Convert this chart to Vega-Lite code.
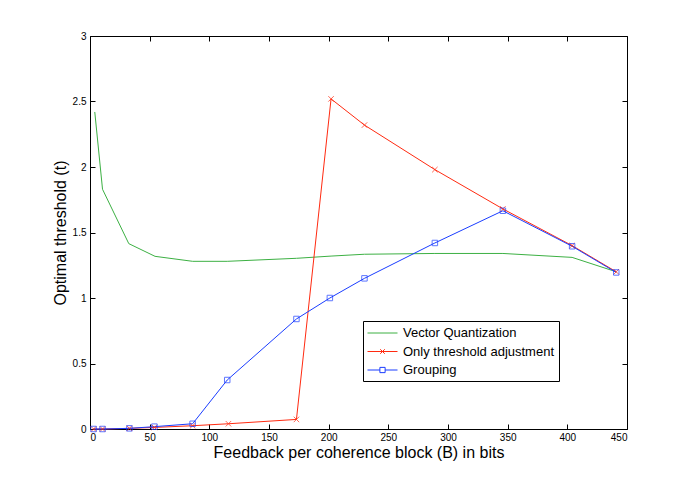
{
  "$schema": "https://vega.github.io/schema/vega-lite/v6.json",
  "width": 537,
  "height": 393,
  "autosize": {"type": "none"},
  "padding": {"left": 90, "top": 36, "right": 65, "bottom": 54},
  "background": "white",
  "config": {
    "font": "Liberation Sans",
    "view": {"stroke": "#000", "strokeWidth": 1},
    "axis": {"grid": false, "domain": false, "tickColor": "#000", "tickSize": -5, "labelColor": "#000", "labelFont": "Liberation Sans", "labelFontSize": 10, "titleFont": "Liberation Sans", "titleFontSize": 16, "titleFontWeight": "normal", "titleColor": "#000"}
  },
  "data": {"values": [
    {"series": "Vector Quantization", "B": 4, "t": 2.42},
    {"series": "Vector Quantization", "B": 10.5, "t": 1.83},
    {"series": "Vector Quantization", "B": 32.5, "t": 1.415},
    {"series": "Vector Quantization", "B": 54.5, "t": 1.318},
    {"series": "Vector Quantization", "B": 86, "t": 1.28},
    {"series": "Vector Quantization", "B": 115, "t": 1.28},
    {"series": "Vector Quantization", "B": 173, "t": 1.303},
    {"series": "Vector Quantization", "B": 202, "t": 1.32},
    {"series": "Vector Quantization", "B": 230, "t": 1.334},
    {"series": "Vector Quantization", "B": 289, "t": 1.34},
    {"series": "Vector Quantization", "B": 346, "t": 1.34},
    {"series": "Vector Quantization", "B": 404, "t": 1.31},
    {"series": "Vector Quantization", "B": 441, "t": 1.2},
    {"series": "Only threshold adjustment", "B": 3, "t": 0},
    {"series": "Only threshold adjustment", "B": 10.5, "t": 0},
    {"series": "Only threshold adjustment", "B": 33, "t": 0.005},
    {"series": "Only threshold adjustment", "B": 54, "t": 0.012},
    {"series": "Only threshold adjustment", "B": 86, "t": 0.025},
    {"series": "Only threshold adjustment", "B": 116, "t": 0.04},
    {"series": "Only threshold adjustment", "B": 173, "t": 0.073},
    {"series": "Only threshold adjustment", "B": 202, "t": 2.52},
    {"series": "Only threshold adjustment", "B": 230, "t": 2.32},
    {"series": "Only threshold adjustment", "B": 289, "t": 1.98},
    {"series": "Only threshold adjustment", "B": 346, "t": 1.68},
    {"series": "Only threshold adjustment", "B": 404, "t": 1.4},
    {"series": "Only threshold adjustment", "B": 441, "t": 1.2},
    {"series": "Grouping", "B": 3, "t": 0},
    {"series": "Grouping", "B": 10.5, "t": 0},
    {"series": "Grouping", "B": 33, "t": 0.005},
    {"series": "Grouping", "B": 54, "t": 0.018},
    {"series": "Grouping", "B": 86, "t": 0.04},
    {"series": "Grouping", "B": 115, "t": 0.374},
    {"series": "Grouping", "B": 173, "t": 0.84},
    {"series": "Grouping", "B": 201, "t": 1.0},
    {"series": "Grouping", "B": 230, "t": 1.15},
    {"series": "Grouping", "B": 289, "t": 1.42},
    {"series": "Grouping", "B": 346, "t": 1.666},
    {"series": "Grouping", "B": 404, "t": 1.395},
    {"series": "Grouping", "B": 441, "t": 1.195}
  ]},
  "layer": [
    {
      "mark": {"type": "point", "filled": false, "opacity": 0, "strokeWidth": 1},
      "encoding": {
        "x": {"field": "B", "type": "quantitative", "scale": {"domain": [0, 450], "nice": false}, "axis": {"values": [0,50,100,150,200,250,300,350,400,450], "labelPadding": 8, "title": "Feedback per coherence block (B) in bits", "titlePadding": 2}},
        "y": {"field": "t", "type": "quantitative", "scale": {"domain": [0, 3], "nice": false}, "axis": {"values": [0,0.5,1,1.5,2,2.5,3], "format": "~g", "labelPadding": 9, "title": "Optimal threshold (t)", "titlePadding": 4}},
        "color": {"field": "series", "type": "nominal", "title": null, "scale": {"domain": ["Vector Quantization", "Only threshold adjustment", "Grouping"], "range": ["#3cb043", "#ff2a10", "#1a3dff"]}, "legend": {"orient": "none", "legendX": 273, "legendY": 285, "title": null, "symbolSize": 225, "symbolOpacity": 1, "symbolStrokeWidth": 1, "symbolFillColor": "transparent", "labelFontSize": 13, "labelFont": "Liberation Sans", "labelColor": "#000", "labelOffset": 20, "rowPadding": 3.5, "padding": 4, "strokeColor": "#000", "fillColor": "white", "labelLimit": 300}},
        "shape": {"field": "series", "type": "nominal", "title": null, "scale": {"domain": ["Vector Quantization", "Only threshold adjustment", "Grouping"], "range": ["M-1,0H3", "M-1,0H3M0.7,-0.3L1.3,0.3M0.7,0.3L1.3,-0.3", "M-1,0H0.65M1.35,0H3M0.65,-0.35H1.35V0.35H0.65Z"]}, "legend": {"orient": "none", "legendX": 273, "legendY": 285, "title": null}}
      }
    },
    {
      "mark": {"type": "line", "strokeWidth": 1},
      "encoding": {
        "x": {"field": "B", "type": "quantitative", "axis": null},
        "y": {"field": "t", "type": "quantitative", "axis": null},
        "color": {"field": "series", "type": "nominal"},
        "detail": {"field": "series"}
      }
    },
    {
      "transform": [{"filter": "datum.series === 'Only threshold adjustment'"}],
      "mark": {"type": "point", "shape": "M-1,-1L1,1M-1,1L1,-1", "filled": false, "size": 30, "strokeWidth": 1},
      "encoding": {
        "x": {"field": "B", "type": "quantitative", "axis": null},
        "y": {"field": "t", "type": "quantitative", "axis": null},
        "color": {"field": "series", "type": "nominal"}
      }
    },
    {
      "transform": [{"filter": "datum.series === 'Grouping'"}],
      "mark": {"type": "point", "shape": "square", "filled": false, "size": 30, "strokeWidth": 1},
      "encoding": {
        "x": {"field": "B", "type": "quantitative", "axis": null},
        "y": {"field": "t", "type": "quantitative", "axis": null},
        "color": {"field": "series", "type": "nominal"}
      }
    },
    {
      "mark": {"type": "point", "opacity": 0},
      "encoding": {
        "x": {"field": "B", "type": "quantitative", "axis": {"orient": "top", "values": [0,50,100,150,200,250,300,350,400,450], "labels": false, "title": null}},
        "y": {"field": "t", "type": "quantitative", "axis": {"orient": "right", "values": [0,0.5,1,1.5,2,2.5,3], "labels": false, "title": null}}
      }
    }
  ],
  "resolve": {"axis": {"x": "independent", "y": "independent"}}
}
